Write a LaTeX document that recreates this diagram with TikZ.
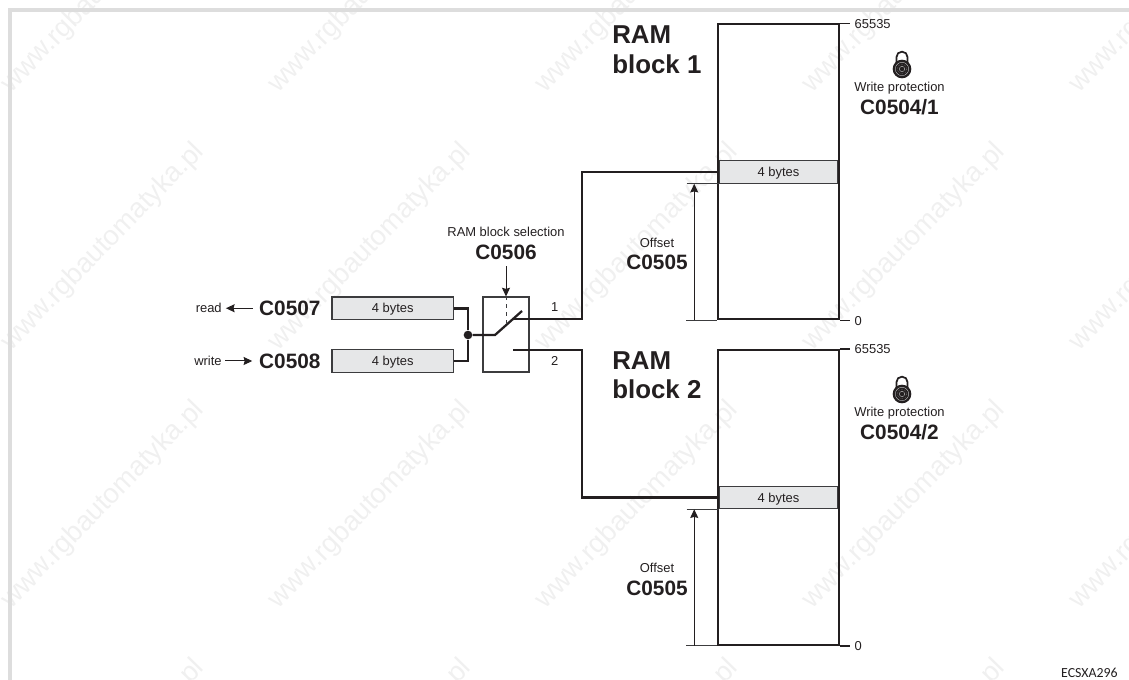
\documentclass[tikz,border=0pt]{standalone}
\usepackage{fontspec}
\setmainfont{Liberation Sans}
\newfontfamily\stampfont{Carlito}
\usetikzlibrary{arrows.meta,positioning}
\definecolor{lzink}{HTML}{231F20}
\definecolor{lzgray}{HTML}{E6E7E8}
\definecolor{lzedge}{HTML}{3C3C3E}
\definecolor{lzframe}{HTML}{DDDDDD}
\definecolor{lzmark}{HTML}{F0F0F0}
\tikzset{
  padlock/.pic={
    \draw[line width=1.3pt, lzink, rounded corners=4pt] (-5.5,-6) -- (-5.5,-17.3) -- (5.5,-17.3) -- (5.5,-6);
    \fill[lzink] (0,0) circle[radius=7pt];
    \draw[lzgray!70, line width=0.2pt] (0,0) circle[radius=5pt];
    \draw[lzgray!70, line width=0.2pt, densely dotted] (0,0) circle[radius=3.6pt];
    \draw[lzgray!70, line width=0.2pt] (0,0) circle[radius=2pt];
  }
}
\begin{document}
\begin{tikzpicture}[
  x=0.75pt, y=-0.75pt,
  memblock/.style={draw=lzink, line width=1.5pt, minimum width=90.4pt, minimum height=221.25pt, inner sep=0pt},
  bytebar/.style={draw=lzedge, line width=0.8pt, fill=lzgray, text=lzink, minimum width=88.6pt, minimum height=16.9pt, inner sep=0pt, text height=7pt, text depth=0pt, font=\fontsize{9.7}{11}\selectfont},
  bytebox/.style={draw=lzedge, line width=1pt, fill=lzgray, text=lzink, minimum width=91pt, minimum height=16.9pt, inner sep=0pt, text height=7pt, text depth=0pt, font=\fontsize{9.7}{11}\selectfont},
  swbox/.style={draw=lzedge, line width=0.8pt, minimum width=34.5pt, minimum height=56.25pt, inner sep=0pt},
  smalltext/.style={text=lzink, inner sep=0pt, font=\fontsize{9.7}{11}\selectfont},
  codetext/.style={text=lzink, inner sep=0pt, font=\fontsize{15.6}{17}\selectfont\bfseries},
  ramtext/.style={text=lzink, inner sep=0pt, align=left, anchor=north west, font=\fontsize{19.4}{22.3}\selectfont\bfseries},
  valuetext/.style={text=lzink, inner sep=3pt, text height=7pt, text depth=0pt, font=\fontsize{9.7}{11}\selectfont},
  wire/.style={lzink, line width=2pt},
  thinline/.style={lzedge, line width=0.75pt},
  arr/.style={-{Stealth[length=6.5pt,width=6pt,inset=0.8pt]}, lzink, line width=0.75pt},
  watermark/.style={text=lzmark, rotate=45.7, inner sep=0pt, font=\fontsize{20.7}{22}\selectfont}
]
\useasboundingbox (0,0) rectangle (1129,680);
\begin{scope}
\clip (0,0) rectangle (1129,680);
\foreach \col in {0,...,4}
  \foreach \row in {-1,...,2}
    \node[watermark] (stamp\col\row) at (103+267*\col,247+258*\row) {www.rgbautomatyka.pl};
\end{scope}
\coordinate (framebottom) at (10,680);
\coordinate (framecorner) at (10,10);
\coordinate (frameright) at (1129,10);
\draw[lzframe, line width=3pt] (framebottom) -- (framecorner) -- (frameright);
\node[memblock] (block1) at (778.5,172) {};
\node[memblock] (block2) at (778.5,497.5) {};
\node[bytebar] (bar1) at (block1) {4 bytes};
\node[bytebar] (bar2) at (block2) {4 bytes};
\node[valuetext, right=8pt of block1.north east] (top1) {65535};
\node[valuetext, right=8pt of block1.south east] (zero1) {0};
\node[valuetext, right=8pt of block2.north east] (top2) {65535};
\node[valuetext, right=8pt of block2.south east] (zero2) {0};
\draw[wire, line width=1pt] (block1.north east) -- (top1.west);
\draw[wire, line width=1pt] (block1.south east) -- (zero1.west);
\draw[wire, line width=1pt] (block2.north east) -- (top2.west);
\draw[wire, line width=1pt] (block2.south east) -- (zero2.west);
\coordinate[left=23.25pt of block1.south west] (base1);
\coordinate[left=23.25pt of block2.south west] (base2);
\coordinate[left=24.2pt of bar1.south west] (mark1);
\coordinate[left=24.2pt of bar2.south west] (mark2);
\coordinate[left=17.25pt of block1.south west] (foot1);
\coordinate[left=17.25pt of block2.south west] (foot2);
\draw[thinline] (base1) -- (block1.south west);
\draw[thinline] (base2) -- (block2.south west);
\draw[thinline] (mark1) -- (bar1.south west);
\draw[thinline] (mark2) -- (bar2.south west);
\draw[arr] (foot1) -- (foot1 |- bar1.south);
\draw[arr] (foot2) -- (foot2 |- bar2.south);
\node[codetext] (offset1) at (657,262.5) {C0505};
\node[smalltext, above=5.5pt of offset1] (offsettext1) {Offset};
\node[codetext] (offset2) at (657,588) {C0505};
\node[smalltext, above=5.5pt of offset2] (offsettext2) {Offset};
\node[ramtext] (ram1) at (612,25.5) {RAM\\block 1};
\node[ramtext] (ram2) at (612,351) {RAM\\block 2};
\pic at (902,69) {padlock};
\pic at (902,394) {padlock};
\node[smalltext] (protect1) at (899.5,88.5) {Write protection};
\node[codetext, below=3pt of protect1] (lock1) {C0504/1};
\node[smalltext] (protect2) at (899.5,413.5) {Write protection};
\node[codetext, below=3pt of protect2] (lock2) {C0504/2};
\node[bytebox] (bytesread) at (392.75,308.25) {4 bytes};
\node[bytebox] (byteswrite) at (392.75,361) {4 bytes};
\node[codetext, left=8pt of bytesread] (coderead) {C0507};
\node[codetext, left=8pt of byteswrite] (codewrite) {C0508};
\node[smalltext, left=27.75pt of coderead] (read) {read};
\node[smalltext, left=27.75pt of codewrite] (write) {write};
\draw[arr, shorten <=4.5pt, shorten >=3pt] (coderead) -- (read);
\draw[arr, shorten <=2.5pt, shorten >=5pt] (write) -- (codewrite);
\node[swbox] (switch) at (506,334.5) {};
\node[codetext] (codesel) at (506,252) {C0506};
\node[smalltext, above=5.5pt of codesel] (seltext) {RAM block selection};
\node[smalltext] (way1) at (554.7,307) {1};
\node[smalltext] (way2) at (554.7,360.7) {2};
\node[circle, fill=lzink, inner sep=0pt, minimum size=6.5pt] (junction) at (468,335) {};
\coordinate (armstart) at (495,335);
\coordinate (armtip) at (522,311);
\coordinate (contact1) at (513,319);
\coordinate (contact2) at (513,350);
\coordinate (riser1) at (582,245);
\coordinate (riser2) at (582,420);
\coordinate (linkend) at (506,323);
\draw[arr, shorten <=5pt] (codesel) -- (switch.north);
\draw[thinline, dashed] (switch.north) -- (linkend);
\draw[wire] (bytesread.east) -| (junction);
\draw[wire] (byteswrite.east) -| (junction);
\draw[wire, line width=1.7pt] (junction) -- (armstart) -- (armtip);
\draw[wire] (contact1) -| (riser1) |- (bar1.west);
\draw[wire] (contact2) -| (riser2) |- (bar2.west);
\node[text=lzink, anchor=east, inner sep=0pt, font=\stampfont\fontsize{10.4}{12}\selectfont] (stamp) at (1118,673) {ECSXA296};
\end{tikzpicture}
\end{document}
